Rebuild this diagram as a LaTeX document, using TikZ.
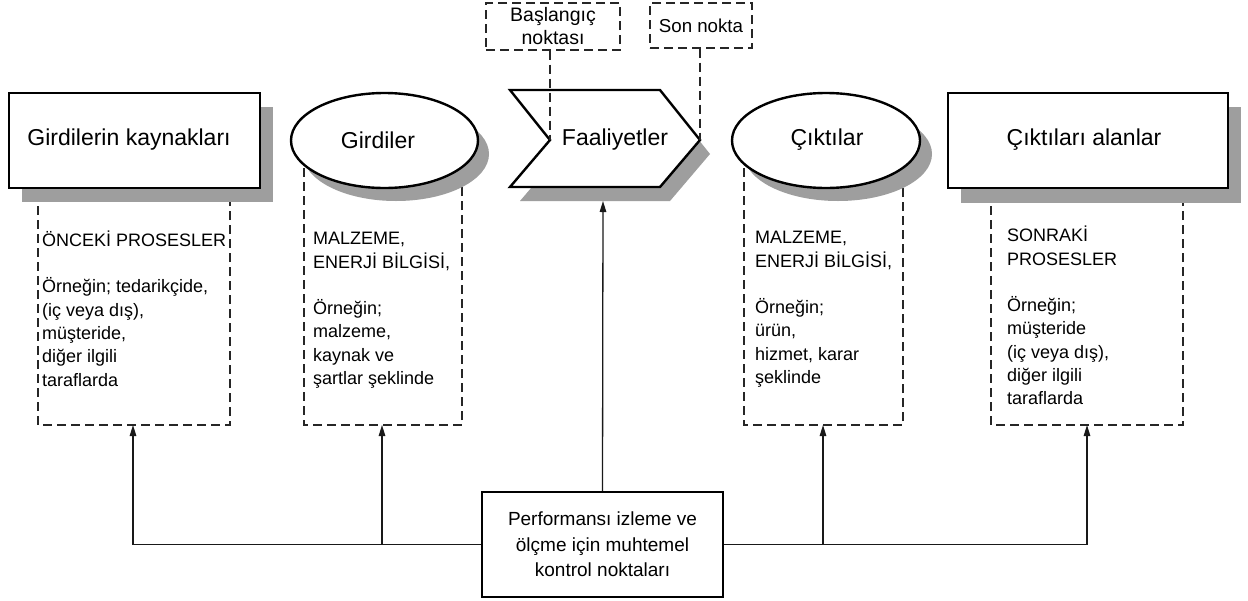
\documentclass[tikz,border=0pt]{standalone}
\usepackage{fontspec}
\setmainfont{Liberation Sans}
\usetikzlibrary{arrows.meta,shapes.geometric}
\begin{document}
\begin{tikzpicture}[x=1pt,y=-1pt,
  solidbox/.style={draw=black,line width=2.4pt,fill=white,line join=miter},
  shadowfill/.style={fill=black!38,draw=none},
  dbox/.style={draw=black!85,line width=1.4pt,dash pattern=on 9pt off 5pt},
  titletext/.style={font=\fontsize{23}{28}\selectfont,inner sep=0pt},
  bodytext/.style={font=\fontsize{18}{23.3}\selectfont,align=left,anchor=north west,inner sep=0pt},
  conn/.style={draw=black!90,line width=1.3pt},
  arr/.style={conn,-{Triangle[length=11pt,width=6.5pt]}}
]
\useasboundingbox[fill=white] (0,0) rectangle (1248,600);

% dashed boxes (open at top, hidden behind the shapes)
\draw[dbox] (38,150) -- (38,425) -- (230,425) -- (230,150);
\draw[dbox] (304,140) -- (304,425) -- (462,425) -- (462,140);
\draw[dbox] (744,140) -- (744,425) -- (903,425) -- (903,140);
\draw[dbox] (991,150) -- (991,425) -- (1183,425) -- (1183,150);
\coordinate (d1b) at (133,425);
\coordinate (d2b) at (382,425);
\coordinate (d4b) at (823,425);
\coordinate (d5b) at (1087,425);

% shadows
\fill[shadowfill] (22,107) rectangle (273,202);
\fill[shadowfill] (396,154) ellipse [x radius=93pt, y radius=47pt];
\fill[shadowfill] (520,104) -- (670,104) -- (710,154) -- (670,201) -- (520,201) -- (560,154) -- cycle;
\fill[shadowfill] (838,154) ellipse [x radius=94pt, y radius=47pt];
\fill[shadowfill] (961,107) rectangle (1241,203);

% main shapes
\node[solidbox, minimum width=251pt, minimum height=95pt, inner sep=0pt] (src) at (134.5,140.5) {};
\node[titletext] (srct) at (129,140) {Girdilerin kaynakları};

\node[solidbox, ellipse, minimum width=187pt, minimum height=95pt, inner sep=0pt] (inp) at (384.5,140.5) {};
\node[titletext] (inpt) at (378,140) {Girdiler};

\draw[solidbox] (510,90) -- (660,90) -- (700,140) -- (660,187) -- (510,187) -- (550,140) -- cycle;
\coordinate (notch) at (550,140);
\coordinate (tip) at (700,140);
\coordinate (chevb) at (603,201);
\node[titletext] (actt) at (615,140) {Faaliyetler};

\node[solidbox, ellipse, minimum width=188pt, minimum height=95pt, inner sep=0pt] (outp) at (826,140.5) {};
\node[titletext] (outpt) at (827,140) {Çıktılar};

\node[solidbox, minimum width=280pt, minimum height=95pt, inner sep=0pt] (rcv) at (1088,140.5) {};
\node[titletext] (rcvt) at (1084,140) {Çıktıları alanlar};

% start / end points
\node[dbox, minimum width=134pt, minimum height=47pt, inner sep=0pt, align=center,
  font=\fontsize{19.5}{23}\selectfont] (startp) at (553,26.5) {Başlangıç\\noktası};
\node[dbox, minimum width=102pt, minimum height=45pt, inner sep=0pt, align=center,
  font=\fontsize{18.7}{23}\selectfont] (endp) at (701,25.5) {Son nokta};
\draw[dbox] (startp.south -| notch) -- (notch);
\draw[dbox] (endp.south -| tip) -- (tip);

% body texts
\node[bodytext] (b1) at (42,229) {\rule{0pt}{17pt}ÖNCEKİ PROSESLER\\[23.3pt]
Örneğin; tedarikçide,\\(iç veya dış),\\müşteride,\\diğer ilgili\\taraflarda};
\node[bodytext] (b2) at (313,227.5) {\rule{0pt}{17pt}MALZEME,\\ENERJİ BİLGİSİ,\\[23.3pt]
Örneğin;\\malzeme,\\kaynak ve\\şartlar şeklinde};
\node[bodytext] (b4) at (755,226.5) {\rule{0pt}{17pt}MALZEME,\\ENERJİ BİLGİSİ,\\[23.3pt]
Örneğin;\\ürün,\\hizmet, karar\\şeklinde};
\node[bodytext] (b5) at (1007,224.5) {\rule{0pt}{17pt}SONRAKİ\\PROSESLER\\[23.3pt]
Örneğin;\\müşteride\\(iç veya dış),\\diğer ilgili\\taraflarda};

% control points box
\node[solidbox, minimum width=241pt, minimum height=105pt, inner sep=0pt, align=center,
  font=\fontsize{19}{25.5}\selectfont] (perf) at (602.5,544.5)
  {Performansı izleme ve\\ölçme için muhtemel\\kontrol noktaları};

% connectors
\draw[arr] (perf.north) -- (chevb);
\draw[arr] (perf.west) -| (d1b);
\draw[arr] (perf.west -| d2b) -- (d2b);
\draw[arr] (perf.east) -| (d5b);
\draw[arr] (perf.east -| d4b) -- (d4b);
\end{tikzpicture}
\end{document}
